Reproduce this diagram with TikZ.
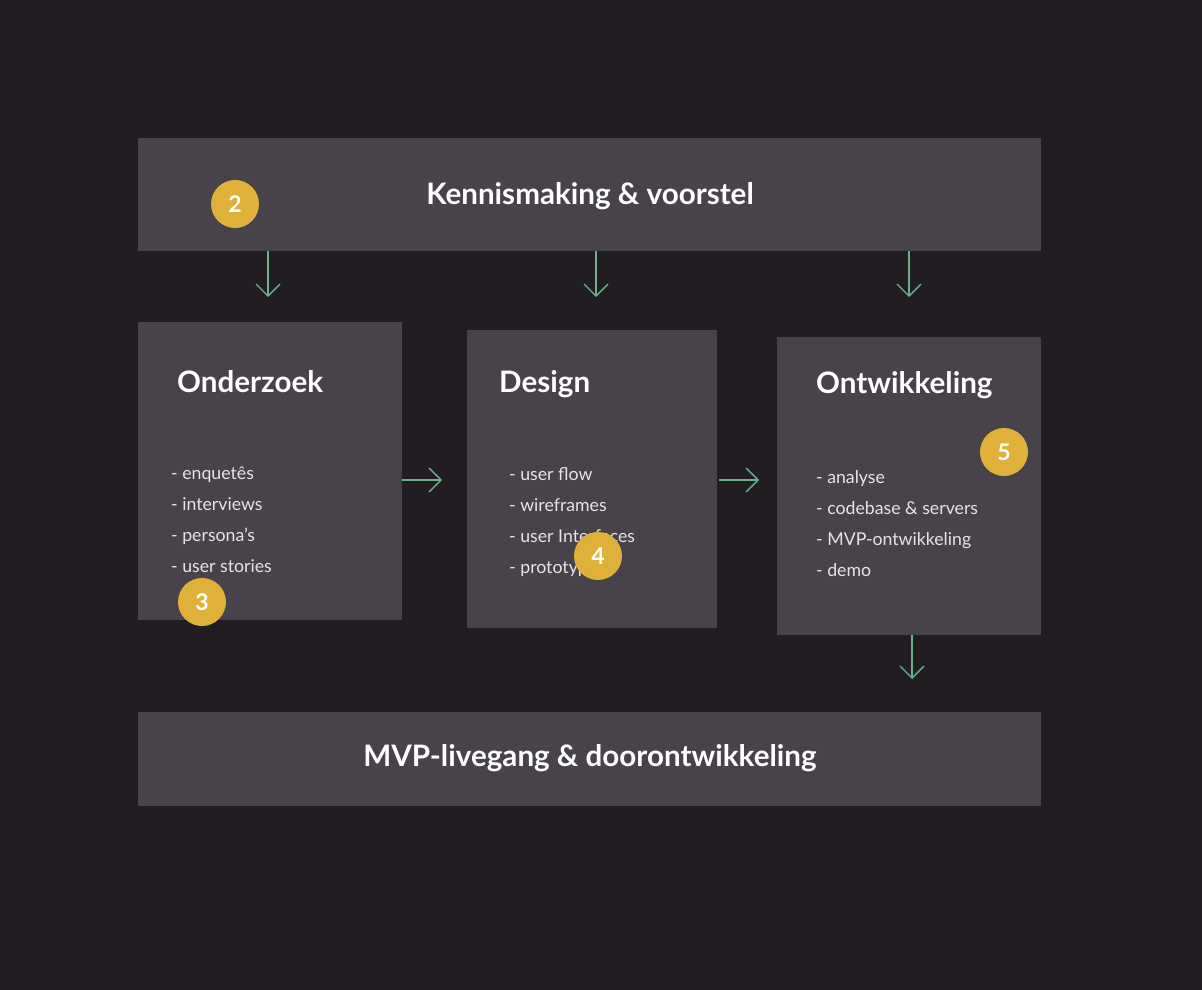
\documentclass[tikz,border=0pt]{standalone}
\usepackage{fontspec}
\setmainfont{Lato}
\usetikzlibrary{arrows.meta}
\definecolor{bgc}{HTML}{221D22}
\definecolor{boxc}{HTML}{48424A}
\definecolor{circc}{HTML}{E0B13A}
\definecolor{arrc}{HTML}{6DB08C}
\definecolor{itemc}{HTML}{E6E4E6}
\tikzset{
  panel/.style={fill=boxc, draw=none, inner sep=0pt, anchor=north west},
  heading/.style={text=white, font=\fontsize{29.6}{34}\selectfont\bfseries, anchor=base west, inner sep=0pt},
  title/.style={text=white, font=\fontsize{29.6}{34}\selectfont\bfseries, anchor=base, inner sep=0pt},
  item/.style={text=itemc, font=\fontsize{17.7}{21}\selectfont, anchor=base west, inner sep=0pt},
  badge/.style={circle, fill=circc, minimum size=48pt, inner sep=0pt, text=white, font=\fontsize{23}{26}\selectfont\bfseries},
  flow/.style={draw=arrc, line width=1.3pt, -{Straight Barb[length=12pt,width=24pt,line width=1.3pt]}}
}
\begin{document}
\begin{tikzpicture}[x=1pt,y=-1pt]
\fill[bgc] (0,0) rectangle (1202,990);
\useasboundingbox (0,0) rectangle (1202,990);
% panels
\node[panel, minimum width=903pt, minimum height=113pt] (top) at (138,138) {};
\node[panel, minimum width=264pt, minimum height=298pt] (ond) at (138,322) {};
\node[panel, minimum width=250pt, minimum height=298pt] (des) at (467,330) {};
\node[panel, minimum width=264pt, minimum height=298pt] (ont) at (777,337) {};
\node[panel, minimum width=903pt, minimum height=94pt] (bot) at (138,712) {};
% titles
\node[title] (ttop) at (590,204) {Kennismaking \& voorstel};
\node[title] (tbot) at (590,766) {MVP-livegang \& doorontwikkeling};
% headings
\node[heading] (hond) at (177,392) {Onderzoek};
\node[heading] (hdes) at (499,392) {Design};
\node[heading] (hont) at (816,393) {Ontwikkeling};
% items
\node[item] (o1) at (171,479) {- enquetês};
\node[item] (o2) at (171,510) {- interviews};
\node[item] (o3) at (171,541) {- persona’s};
\node[item] (o4) at (171,572) {- user stories};
\node[item] (d1) at (509,480) {- user flow};
\node[item] (d2) at (509,511) {- wireframes};
\node[item] (d3) at (509,542) {- user Interfaces};
\node[item] (d4) at (509,573) {- prototypes};
\node[item] (n1) at (816,483) {- analyse};
\node[item] (n2) at (816,514) {- codebase \& servers};
\node[item] (n3) at (816,545) {- MVP-ontwikkeling};
\node[item] (n4) at (816,576) {- demo};
% badges
\node[badge] (b2) at (235,204) {2};
\node[badge] (b3) at (202,602) {3};
\node[badge] (b4) at (598,556) {4};
\node[badge] (b5) at (1004,452) {5};
% connectors
\draw[flow, shorten >=25pt] (top.south -| 268,0) -- (ond.north -| 268,0);
\draw[flow, shorten >=33pt] (top.south -| 596,0) -- (des.north -| 596,0);
\draw[flow, shorten >=40pt] (top.south -| 909,0) -- (ont.north -| 909,0);
\draw[flow, shorten >=25pt] (ond.east |- 0,480) -- (des.west |- 0,480);
\draw[flow, shorten >=18pt, shorten <=2pt] (des.east |- 0,480) -- (ont.west |- 0,480);
\draw[flow, shorten >=33pt] (ont.south -| 912,0) -- (bot.north -| 912,0);
\end{tikzpicture}
\end{document}
